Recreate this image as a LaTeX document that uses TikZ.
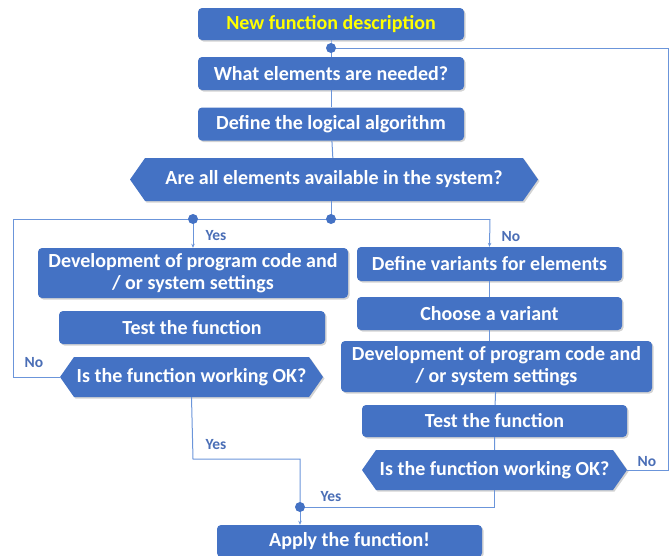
\documentclass[tikz,border=0pt]{standalone}
\usepackage{fontspec}
\setmainfont{Carlito}
\usetikzlibrary{shapes.symbols,shadows,arrows.meta}
\definecolor{boxblue}{HTML}{4472C4}
\definecolor{lineblue}{HTML}{6B95DA}
\definecolor{lblblue}{HTML}{4A6EB6}
\definecolor{newyellow}{HTML}{FFFF00}
\tikzset{
  stepbox/.style={fill=boxblue, rounded corners=4pt, text=white, font=\fontsize{20}{22}\selectfont\bfseries,
    inner sep=0pt, align=center, drop shadow={opacity=0.35, shadow xshift=1.5pt, shadow yshift=-1.5pt}},
  decide/.style={signal, signal to=west and east, signal pointer angle=110, fill=boxblue, text=white,
    font=\fontsize{20}{22}\selectfont\bfseries, inner sep=0pt, align=center,
    drop shadow={opacity=0.35, shadow xshift=1.5pt, shadow yshift=-1.5pt}},
  conn/.style={draw=lineblue, line width=1pt},
  arr/.style={conn, -{Stealth[length=4pt,width=3.5pt]}},
  dotnode/.style={circle, fill=boxblue, inner sep=0pt, minimum size=10pt},
  lbl/.style={text=lblblue, font=\fontsize{15.5}{17}\selectfont\bfseries, inner sep=0pt}
}
\begin{document}
\begin{tikzpicture}[x=1pt,y=-1pt]
\useasboundingbox (0,0) rectangle (672,555);
% boxes
\node[stepbox, minimum width=266pt, minimum height=32pt, text=newyellow] (b1) at (331,24) {New function description};
\node[stepbox, minimum width=266pt, minimum height=33pt] (b2) at (331,73.5) {What elements are needed?};
\node[stepbox, minimum width=266pt, minimum height=33pt] (b3) at (331,124) {Define the logical algorithm};
\node[decide, minimum width=408pt, minimum height=43pt] (h1) at (334,179.5) {Are all elements available in the system?};
\node[stepbox, minimum width=310pt, minimum height=50pt] (dev1) at (193,273) {Development of program code and\\/ or system settings};
\node[stepbox, minimum width=266pt, minimum height=33pt] (t1) at (192,327.5) {Test the function};
\node[decide, minimum width=263pt, minimum height=40pt] (hL) at (191.5,377) {Is the function working OK?};
\node[stepbox, minimum width=265pt, minimum height=34pt] (def) at (489.5,264) {Define variants for elements};
\node[stepbox, minimum width=265pt, minimum height=33pt] (ch) at (489.5,313.5) {Choose a variant};
\node[stepbox, minimum width=311pt, minimum height=51pt] (dev2) at (496.5,366.5) {Development of program code and\\/ or system settings};
\node[stepbox, minimum width=265pt, minimum height=32pt] (t2) at (494.5,421) {Test the function};
\node[decide, minimum width=265pt, minimum height=40pt] (hR) at (494.5,470) {Is the function working OK?};
\node[stepbox, minimum width=265pt, minimum height=32pt] (ap) at (349.5,541) {Apply the function!};
% junctions
\coordinate (j0) at (331,48);
\coordinate (j1) at (331,219);
\coordinate (jL) at (193,219);
\coordinate (jB) at (300,507);
\coordinate (cTR) at (668,48);
\coordinate (cRR) at (668,470);
\coordinate (cLT) at (13,219);
\coordinate (cLB) at (13,377);
\coordinate (cN) at (490,219);
\coordinate (cY1) at (193,459);
\coordinate (cY2) at (300,459);
\coordinate (cY3) at (494.5,507);
% connectors
\draw[conn] (b1.south) -- (j0) -- (b2.north);
\draw[conn] (b2) -- (b3);
\draw[conn] (b3) -- (h1);
\draw[conn] (h1.south -| j1) -- (j1);
\draw[conn] (j1) -- (jL);
\draw[arr] (jL) -- (dev1.north);
\draw[conn] (j1) -- (cN);
\draw[arr] (cN) -- (def.north);
\draw[conn] (hL.west) -- (cLB) -- (cLT) -- (jL);
\draw[conn] (def) -- (ch);
\draw[conn] (ch.south) -- (ch.south |- dev2.north);
\draw[conn] (dev2) -- (t2);
\draw[conn] (t2) -- (hR);
\draw[conn] (hR.east) -- (cRR) -- (cTR) -- (j0);
\draw[conn] (hL.south) -- (cY1) -- (cY2) -- (jB);
\draw[conn] (hR.south) -- (cY3) -- (jB);
\draw[arr] (jB) -- (ap.north -| jB);
\node[dotnode] (d0) at (j0) {};
\node[dotnode] (d1) at (j1) {};
\node[dotnode] (dL) at (jL) {};
\node[dotnode] (dB) at (jB) {};
% labels
\node[lbl] (y1) at (216,236) {Yes};
\node[lbl] (n1) at (511,237) {No};
\node[lbl] (n2) at (34,363) {No};
\node[lbl] (y2) at (216,445) {Yes};
\node[lbl] (y3) at (331,497) {Yes};
\node[lbl] (n3) at (647,462) {No};
\end{tikzpicture}
\end{document}
